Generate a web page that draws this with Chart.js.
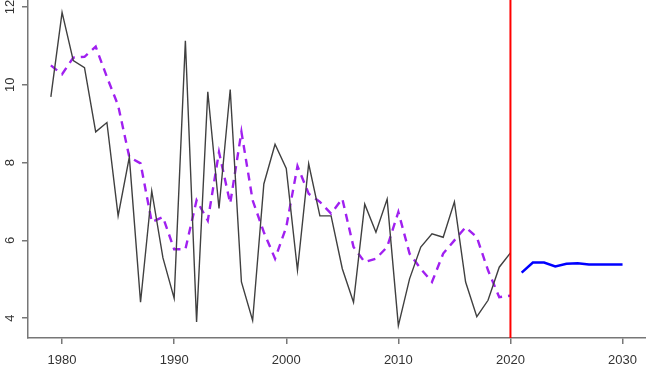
<!DOCTYPE html>
<html>
<head>
<meta charset="utf-8">
<script src="https://cdn.jsdelivr.net/npm/chart.js@4.4.1/dist/chart.umd.min.js"></script>
<style>
  html, body { margin: 0; padding: 0; background: #fff; }
  #wrap { width: 646px; height: 369px; }
</style>
</head>
<body>
<div id="wrap"><canvas id="chart" width="646" height="369"></canvas></div>
<script>
// observed series
const obsYears = [1979, 1980, 1981, 1982, 1983, 1984, 1985, 1986, 1987, 1988,
                  1989, 1990, 1991, 1992, 1993, 1994, 1995, 1996, 1997, 1998,
                  1999, 2000, 2001, 2002, 2003, 2004, 2005, 2006, 2007, 2008,
                  2009, 2010, 2011, 2012, 2013, 2014, 2015, 2016, 2017, 2018,
                  2019, 2020];
const observed = [9.69, 11.86, 10.62, 10.44, 8.79, 9.03, 6.63, 8.14, 4.41, 7.27,
                  5.55, 4.51, 11.13, 3.90, 9.82, 6.82, 9.88, 4.93, 3.94, 7.45,
                  8.47, 7.85, 5.23, 7.97, 6.63, 6.63, 5.27, 4.41, 6.93, 6.21,
                  7.06, 3.81, 5.01, 5.83, 6.17, 6.08, 6.99, 4.93, 4.04, 4.46,
                  5.31, 5.68];
// fitted (dashed purple)
const fitted = [10.5, 10.27, 10.7, 10.72, 10.98, 10.2, 9.47, 8.14, 7.98, 6.47,
                6.6, 5.77, 5.77, 7.03, 6.51, 8.27, 6.95, 8.79, 7.03, 6.21,
                5.53, 6.34, 7.91, 7.2, 6.99, 6.69, 7.07, 5.83, 5.44, 5.53,
                5.83, 6.73, 5.66, 5.27, 4.93, 5.66, 6.0, 6.34, 6.08, 5.23,
                4.54, 4.58];
// forecast (blue)
const fcYears = [2021, 2022, 2023, 2024, 2025, 2026, 2027, 2028, 2029, 2030];
const forecast = [5.17, 5.43, 5.43, 5.33, 5.40, 5.41, 5.38, 5.38, 5.38, 5.38];

const cutYear = 2020;
const xTicks = [1980, 1990, 2000, 2010, 2020, 2030];
const yTicks = [4, 6, 8, 10, 12];

function pts(xs, ys) {
    return xs.map((x, i) => ({ x: x, y: ys[i] }));
}

const axisColor = '#777';
const labelFont = { family: 'Liberation Sans, Arial, sans-serif', size: 13 };

const cutLine = {
    id: 'cutLine',
    afterDatasetsDraw(chart) {
        const ctx = chart.ctx;
        const x = chart.scales.x.getPixelForValue(cutYear);
        ctx.save();
        ctx.strokeStyle = '#ff0000';
        ctx.lineWidth = 2;
        ctx.beginPath();
        ctx.moveTo(x, chart.chartArea.top);
        ctx.lineTo(x, chart.chartArea.bottom);
        ctx.stroke();
        ctx.restore();
    }
};

// R-style vertical y labels
const yLabels = {
    id: 'yLabels',
    afterDraw(chart) {
        const ctx = chart.ctx;
        const y = chart.scales.y;
        ctx.save();
        ctx.fillStyle = '#333';
        ctx.font = labelFont.size + 'px ' + labelFont.family;
        ctx.textAlign = 'center';
        ctx.textBaseline = 'middle';
        y.ticks.forEach(t => {
            ctx.save();
            ctx.translate(y.left + 10, y.getPixelForValue(t.value));
            ctx.rotate(-Math.PI / 2);
            ctx.fillText(String(t.value), 0, 0);
            ctx.restore();
        });
        ctx.restore();
    }
};

new Chart(document.getElementById('chart').getContext('2d'), {
    type: 'line',
    data: {
        datasets: [
            {
                data: pts(obsYears, observed),
                borderColor: '#404040',
                borderWidth: 1.4
            },
            {
                data: pts(obsYears, fitted),
                borderColor: '#a020f0',
                borderWidth: 2.4,
                borderDash: [8, 6]
            },
            {
                data: pts(fcYears, forecast),
                borderColor: '#0000ff',
                borderWidth: 2.5
            }
        ]
    },
    options: {
        responsive: false,
        animation: false,
        layout: { padding: 0 },
        elements: {
            point: { radius: 0 },
            line: { tension: 0 }
        },
        plugins: {
            legend: { display: false },
            tooltip: { enabled: false }
        },
        scales: {
            x: {
                type: 'linear',
                min: 1976.96,
                max: 2032.04,
                afterBuildTicks: s => { s.ticks = xTicks.map(v => ({ value: v })); },
                afterFit: s => { s.height = 31; },
                grid: { drawOnChartArea: false, tickLength: 6, color: axisColor, lineWidth: 1.5 },
                border: { color: axisColor, width: 1.5 },
                ticks: {
                    color: '#333',
                    font: labelFont,
                    padding: 9,
                    maxRotation: 0,
                    callback: v => String(v)
                }
            },
            y: {
                min: 3.49,
                max: 12.18,
                afterBuildTicks: s => { s.ticks = yTicks.map(v => ({ value: v })); },
                afterFit: s => { s.width = 28; },
                grid: { drawOnChartArea: false, tickLength: 6, color: axisColor, lineWidth: 1.5 },
                border: { color: axisColor, width: 1.5 },
                ticks: { display: false }
            }
        }
    },
    plugins: [cutLine, yLabels]
});
</script>
</body>
</html>
